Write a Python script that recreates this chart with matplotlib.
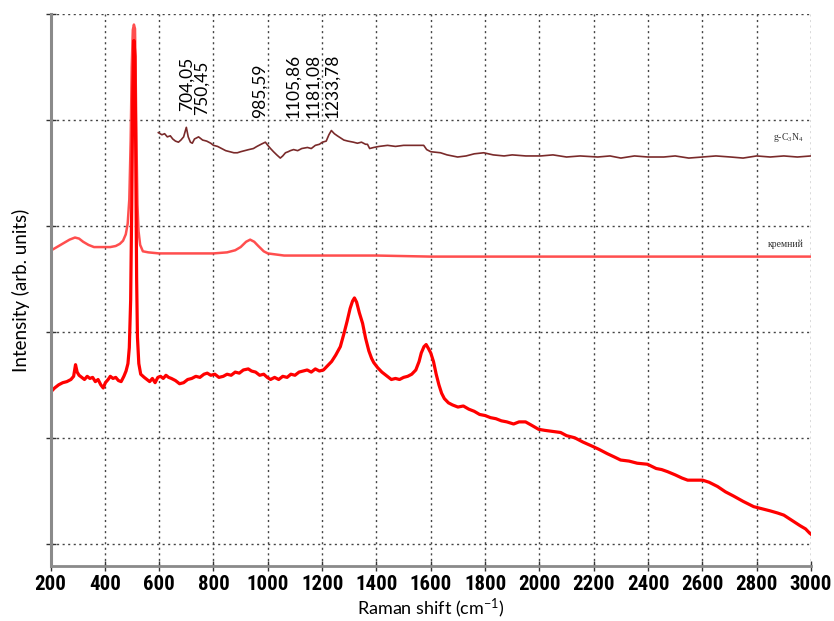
import matplotlib
matplotlib.use('Agg')
import matplotlib.pyplot as plt
from matplotlib import font_manager
import numpy as np

# ─── Data (Raman shift cm-1, arb. intensity) ───────────────────────────────────
# sample spectrum (bottom, bright red)
sample_x = [200, 215, 230, 245, 260, 275, 285, 292, 298, 305, 315, 325, 335, 345, 355,
            365, 375, 385, 394, 402, 412, 420, 430, 440, 450, 460, 470, 478, 485, 490,
            495, 499, 503, 507, 511, 514, 517, 520, 525, 532, 545, 555, 565, 575, 585,
            595, 605, 615, 625, 635, 645, 660, 675, 690, 705, 720, 735, 750, 765, 777,
            790, 805, 820, 836, 850, 865, 880, 895, 910, 928, 940, 955, 970, 985, 998,
            1010, 1025, 1040, 1055, 1071, 1085, 1100, 1115, 1130, 1145, 1160, 1175, 1190,
            1205, 1220, 1235, 1250, 1267, 1280, 1292, 1303, 1312, 1319, 1327, 1337, 1349,
            1360, 1372, 1382, 1390, 1405, 1420, 1440, 1455, 1470, 1485, 1500, 1515, 1530,
            1545, 1557, 1565, 1575, 1583, 1592, 1600, 1610, 1620, 1630, 1640, 1650, 1665,
            1680, 1700, 1720, 1740, 1760, 1780, 1800, 1820, 1840, 1860, 1880, 1905, 1925,
            1949, 1970, 1997, 2020, 2050, 2078, 2100, 2130, 2160, 2195, 2220, 2250, 2275,
            2299, 2330, 2360, 2398, 2430, 2450, 2472, 2500, 2525, 2546, 2575, 2601, 2625,
            2656, 2685, 2715, 2750, 2789, 2820, 2850, 2877, 2900, 2936, 2960, 2980, 2995,
            3000]
sample_y = [1.43, 1.47, 1.50, 1.52, 1.53, 1.55, 1.58, 1.69, 1.62, 1.59, 1.57, 1.55, 1.58,
            1.56, 1.57, 1.53, 1.55, 1.50, 1.47, 1.52, 1.55, 1.58, 1.56, 1.57, 1.54, 1.53,
            1.58, 1.63, 1.70, 1.85, 2.30, 3.20, 4.30, 4.75, 4.60, 3.60, 2.50, 1.95, 1.70,
            1.60, 1.57, 1.55, 1.53, 1.56, 1.52, 1.57, 1.58, 1.56, 1.59, 1.57, 1.56, 1.54,
            1.51, 1.52, 1.55, 1.56, 1.58, 1.57, 1.60, 1.61, 1.59, 1.60, 1.57, 1.58, 1.60,
            1.59, 1.62, 1.61, 1.64, 1.65, 1.63, 1.62, 1.59, 1.60, 1.57, 1.55, 1.57, 1.55,
            1.58, 1.57, 1.60, 1.59, 1.62, 1.63, 1.64, 1.62, 1.65, 1.63, 1.64, 1.68, 1.72,
            1.78, 1.86, 1.98, 2.10, 2.22, 2.29, 2.32, 2.28, 2.18, 2.08, 1.94, 1.82, 1.75,
            1.71, 1.66, 1.62, 1.58, 1.55, 1.56, 1.55, 1.57, 1.58, 1.60, 1.64, 1.72, 1.80,
            1.86, 1.88, 1.84, 1.80, 1.72, 1.60, 1.50, 1.42, 1.37, 1.33, 1.31, 1.29, 1.30,
            1.27, 1.25, 1.22, 1.21, 1.19, 1.18, 1.16, 1.15, 1.13, 1.15, 1.15, 1.12, 1.08,
            1.07, 1.06, 1.05, 1.02, 1.00, 0.96, 0.92, 0.89, 0.85, 0.82, 0.79, 0.78, 0.76,
            0.75, 0.71, 0.70, 0.68, 0.65, 0.62, 0.60, 0.60, 0.60, 0.58, 0.54, 0.49, 0.45,
            0.40, 0.35, 0.33, 0.31, 0.29, 0.27, 0.21, 0.17, 0.14, 0.10, 0.09]

# silicon reference (middle, lighter red)
si_x = [210, 230, 250, 270, 290, 305, 320, 340, 360, 380, 400, 420, 440, 455, 467, 477,
        484, 490, 495, 499, 503, 507, 511, 514, 517, 520, 524, 530, 540, 560, 600, 650,
        700, 750, 800, 850, 880, 900, 920, 935, 950, 965, 985, 1000, 1030, 1060, 1100,
        1200, 1400, 1600, 1800, 2200, 2600, 3000]
si_y = [2.78, 2.81, 2.84, 2.87, 2.89, 2.88, 2.85, 2.82, 2.80, 2.80, 2.80, 2.80, 2.81, 2.83,
        2.86, 2.92, 3.02, 3.25, 3.80, 4.50, 4.85, 4.90, 4.86, 4.30, 3.70, 3.20, 2.95, 2.82,
        2.76, 2.75, 2.74, 2.74, 2.74, 2.74, 2.74, 2.75, 2.77, 2.80, 2.85, 2.87, 2.85, 2.81,
        2.76, 2.74, 2.73, 2.72, 2.72, 2.72, 2.72, 2.71, 2.71, 2.71, 2.71, 2.71]

# g-C3N4 spectrum (top, dark red)
gcn_x = [597, 610, 620, 630, 641, 650, 660, 671, 680, 690, 700, 707, 715, 722, 730, 745,
         760, 775, 790, 800, 815, 830, 845, 860, 875, 888, 900, 915, 930, 947, 960, 975,
         991, 1000, 1010, 1021, 1033, 1046, 1055, 1065, 1075, 1083, 1095, 1110, 1125,
         1146, 1160, 1175, 1190, 1201, 1215, 1225, 1234, 1245, 1256, 1268, 1280, 1295,
         1315, 1330, 1345, 1360, 1367, 1375, 1390, 1410, 1441, 1470, 1500, 1530, 1560,
         1574, 1585, 1600, 1636, 1660, 1699, 1730, 1760, 1795, 1830, 1870, 1900, 1950,
         2005, 2050, 2100, 2150, 2215, 2260, 2300, 2350, 2400, 2458, 2500, 2550, 2600,
         2650, 2704, 2750, 2800, 2850, 2900, 2950, 3000]
gcn_y = [3.88, 3.86, 3.87, 3.84, 3.85, 3.82, 3.80, 3.79, 3.81, 3.84, 3.93, 3.84, 3.79,
         3.78, 3.82, 3.84, 3.81, 3.80, 3.78, 3.76, 3.75, 3.73, 3.71, 3.70, 3.69, 3.69,
         3.70, 3.71, 3.72, 3.73, 3.75, 3.77, 3.79, 3.76, 3.73, 3.70, 3.67, 3.64, 3.66,
         3.69, 3.70, 3.71, 3.72, 3.71, 3.73, 3.74, 3.73, 3.76, 3.77, 3.79, 3.80, 3.86,
         3.90, 3.87, 3.85, 3.83, 3.81, 3.80, 3.79, 3.78, 3.79, 3.77, 3.77, 3.73, 3.74,
         3.75, 3.76, 3.75, 3.76, 3.76, 3.76, 3.76, 3.72, 3.70, 3.69, 3.67, 3.65, 3.66,
         3.68, 3.69, 3.67, 3.66, 3.67, 3.66, 3.66, 3.67, 3.65, 3.66, 3.65, 3.66, 3.64,
         3.66, 3.65, 3.65, 3.66, 3.64, 3.65, 3.66, 3.65, 3.64, 3.66, 3.65, 3.66, 3.65,
         3.66]

# peak labels
peak_labels = ['704,05', '750,45', '985,59', '1105,86', '1181,08', '1233,78']
peak_pos = [701, 755, 970, 1095, 1169, 1237]
peak_base = [4.08, 4.05, 4.02, 4.02, 4.02, 4.02]

x_ticks = list(range(200, 3001, 200))

plt.rcParams['mathtext.default'] = 'regular'

# narrow bold font for the tick labels, if one is installed
installed = {f.name for f in font_manager.fontManager.ttflist}
if 'Liberation Sans Narrow' in installed:
    tick_family, tick_size = 'Liberation Sans Narrow', 15
elif 'Roboto Condensed' in installed:
    tick_family, tick_size = 'Roboto Condensed', 15
else:
    tick_family, tick_size = 'Roboto', 13.5

fig = plt.figure(figsize=(8.34, 6.21), dpi=100)
ax = fig.add_axes([0.0606, 0.0886, 0.9118, 0.8889])

ax.plot(si_x, si_y, color='#ff3b3b', linewidth=1.8, alpha=0.9)
ax.plot(sample_x, sample_y, color='#ff0000', linewidth=2.3)
ax.plot(gcn_x, gcn_y, color='#7a2a2a', linewidth=1.2)

for lab, xp, yb in zip(peak_labels, peak_pos, peak_base):
    ax.text(xp, yb, lab, rotation=90, ha='center', va='bottom',
            fontsize=12.5, family=['Lato', 'DejaVu Sans'], color='black')

ax.text(2975, 3.83, 'g-C$_3$N$_4$', ha='right', va='center', fontsize=7,
        family=['Liberation Serif', 'DejaVu Serif'], color='#333333')
ax.text(2975, 2.83, 'кремний', ha='right', va='center', fontsize=7,
        family=['Liberation Serif', 'DejaVu Serif'], color='#333333')

ax.set_xlim(200, 3000)
ax.set_ylim(-0.21, 5.0)
ax.set_xticks(x_ticks)
ax.set_xticklabels([str(t) for t in x_ticks], fontsize=tick_size, fontweight='bold',
                   family=[tick_family, 'DejaVu Sans'])
ax.set_yticks([0, 1, 2, 3, 4, 5])
ax.set_yticklabels([])
ax.tick_params(axis='both', direction='inout', length=7, width=1, color='#333333')
ax.tick_params(axis='x', pad=3)

ax.grid(True, color='#444444', linestyle=(0, (1.5, 2.5)), linewidth=1.0)
ax.set_axisbelow(True)

for s in ['top', 'right']:
    ax.spines[s].set_visible(False)
ax.spines['left'].set_color('#8a8a8a')
ax.spines['left'].set_linewidth(2.2)
ax.spines['bottom'].set_color('#8a8a8a')
ax.spines['bottom'].set_linewidth(2.0)

ax.set_xlabel('Raman shift (cm$^{-1}$)', fontsize=13, family=['Lato', 'DejaVu Sans'],
              labelpad=2)
ax.set_ylabel('Intensity (arb. units)', fontsize=13.5, family=['Lato', 'DejaVu Sans'],
              labelpad=8)

fig.savefig('out.png', dpi=100)
